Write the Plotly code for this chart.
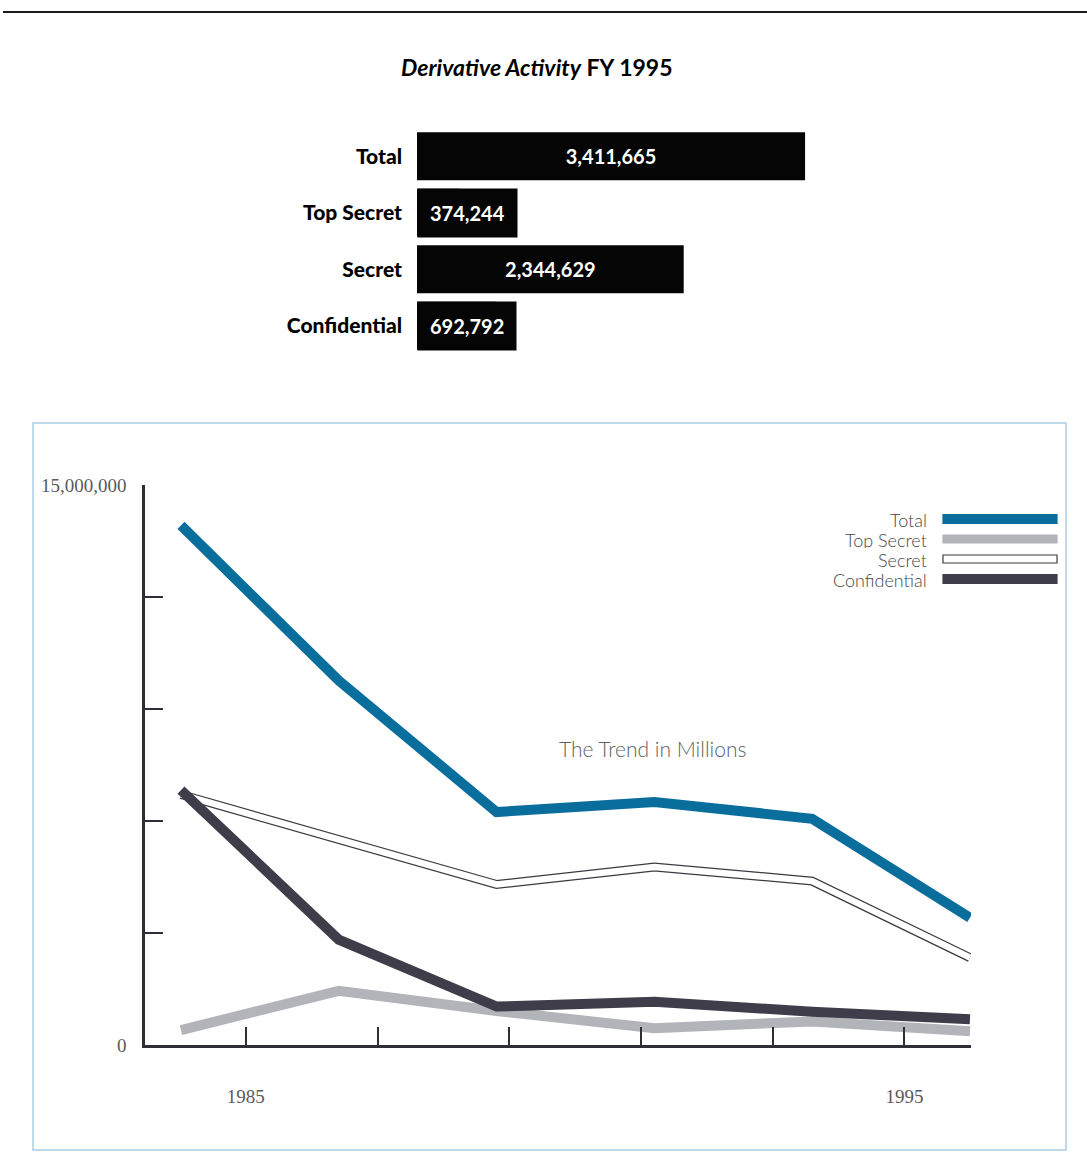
import plotly.graph_objects as go

W, H = 1087, 1175

# ---- Bar chart data (FY 1995) ----
bar_categories = ["Total", "Top Secret", "Secret", "Confidential"]
bar_values = [3411665, 374244, 2344629, 692792]

# ---- Trend data (millions) ----
trend_years = [1985, 1987, 1989, 1991, 1993, 1995]
total_m = [13.92, 9.76, 6.24, 6.51, 6.06, 3.41]
top_secret_m = [0.40, 1.45, 0.91, 0.45, 0.63, 0.37]
secret_m = [6.71, 5.50, 4.30, 4.77, 4.39, 2.34]
confidential_m = [6.83, 2.82, 1.03, 1.16, 0.89, 0.69]

y_tick_vals = [0, 3e6, 6e6, 9e6, 12e6, 15e6]
y_tick_text = ["0", "", "", "", "", "15,000,000"]
x_tick_vals = [1985, 1987, 1989, 1991, 1993, 1995]
x_tick_text = ["1985", "", "", "", "", "1995"]

TEAL = "#0a6e9d"
GREY = "#b3b4b9"
DARK = "#3e3d49"
OUTLINE = "#3a3a40"
AXIS = "#2e2e36"


def px(x):
    return x / W


def py(y):
    return 1 - y / H


fig = go.Figure()

# ---------------- Bar chart ----------------
fits_inside = [v >= 1_000_000 for v in bar_values]
fig.add_trace(go.Bar(
    x=bar_values, y=bar_categories, orientation="h",
    marker=dict(color="#050505", line=dict(width=0)),
    text=[f"{v:,}" if ok else "" for v, ok in zip(bar_values, fits_inside)],
    textposition="inside", insidetextanchor="middle",
    textfont=dict(family="Lato", size=20, color="white", weight="bold"),
    xaxis="x", yaxis="y", showlegend=False, hoverinfo="skip",
))

# ---------------- Line chart ----------------
def M(vals):
    return [v * 1e6 for v in vals]

# empty trace so the year/tick axis pair (x2, y2) is drawn
fig.add_trace(go.Scatter(x=[], y=[], xaxis="x2", yaxis="y2", showlegend=False))

fig.add_trace(go.Scatter(x=trend_years, y=M(top_secret_m), mode="lines",
                         line=dict(color=GREY, width=10), xaxis="x3", yaxis="y2",
                         showlegend=False, name="Top Secret"))
fig.add_trace(go.Scatter(x=trend_years, y=M(secret_m), mode="lines",
                         line=dict(color=OUTLINE, width=9), xaxis="x3", yaxis="y2",
                         showlegend=False, name="Secret"))
fig.add_trace(go.Scatter(x=trend_years, y=M(secret_m), mode="lines",
                         line=dict(color="white", width=6.5), xaxis="x3", yaxis="y2",
                         showlegend=False, name="Secret", hoverinfo="skip"))
fig.add_trace(go.Scatter(x=trend_years, y=M(confidential_m), mode="lines",
                         line=dict(color=DARK, width=10), xaxis="x3", yaxis="y2",
                         showlegend=False, name="Confidential"))
fig.add_trace(go.Scatter(x=trend_years, y=M(total_m), mode="lines",
                         line=dict(color=TEAL, width=10), xaxis="x3", yaxis="y2",
                         showlegend=False, name="Total"))

serif = dict(family="Liberation Serif", size=19, color="#5a5a5a")

fig.update_layout(
    width=W, height=H,
    margin=dict(l=0, r=0, t=0, b=0, pad=0, autoexpand=False),
    paper_bgcolor="white", plot_bgcolor="rgba(0,0,0,0)",
    bargap=0.15,
    xaxis=dict(domain=[px(417), px(872)], range=[0, 4.0e6], visible=False,
               anchor="y", automargin=False),
    yaxis=dict(domain=[py(354), py(128)], anchor="x", automargin=False,
               categoryorder="array", categoryarray=bar_categories,
               autorange="reversed", showgrid=False, zeroline=False,
               showline=False, ticks="", ticklabelstandoff=14,
               tickfont=dict(family="Lato", size=21, color="black", weight=900)),
    xaxis2=dict(domain=[px(145), px(971)], range=[1983.47, 1996.01], anchor="y2",
                automargin=False,
                showline=True, linecolor=AXIS, linewidth=2.5,
                ticks="inside", ticklen=18, tickwidth=2, tickcolor=AXIS,
                tickvals=x_tick_vals, ticktext=x_tick_text,
                ticklabelstandoff=32, tickfont=serif,
                showgrid=False, zeroline=False),
    xaxis3=dict(domain=[px(145), px(971)], range=[1984.544, 1995.013],
                overlaying="x2", anchor="y2", visible=False, automargin=False),
    yaxis2=dict(domain=[py(1045), py(485)], range=[0, 15e6], anchor="x2",
                automargin=False,
                showline=True, linecolor=AXIS, linewidth=2.5,
                ticks="inside", ticklen=18, tickwidth=2, tickcolor=AXIS,
                tickvals=y_tick_vals, ticktext=y_tick_text,
                ticklabelstandoff=12, tickfont=serif,
                showgrid=False, zeroline=False),
)

annotations = [
    dict(text="<b><i>Derivative Activity</i> FY 1995</b>", x=px(537), y=py(67),
         xref="paper", yref="paper", showarrow=False, yanchor="middle",
         font=dict(family="Lato", size=23, color="black")),
    dict(text="The Trend in Millions", x=px(652), y=py(748),
         xref="paper", yref="paper", showarrow=False, yanchor="middle",
         font=dict(family="Lato", size=21, color="#5f5f5f", weight=300)),
]

# label boxes for the short bars (text doesn't fit inside the true-width bar)
for cat, v, ok in zip(bar_categories, bar_values, fits_inside):
    if not ok:
        annotations.append(dict(
            text=f"<b>{v:,}</b>", x=0, y=cat, xref="x", yref="y",
            xanchor="left", yanchor="middle", showarrow=False,
            bgcolor="#050505", borderpad=12, height=24,
            font=dict(family="Lato", size=20, color="white")))

# legend (text at left, swatch at right, as in the original)
legend_items = [
    ("Total", 519, dict(fill=TEAL, line=TEAL, h=9)),
    ("Top Secret", 539, dict(fill=GREY, line=GREY, h=8)),
    ("Secret", 559, dict(fill="white", line=OUTLINE, h=8)),
    ("Confidential", 579, dict(fill=DARK, line=DARK, h=9)),
]
shapes = []
for name, yc, st in legend_items:
    annotations.append(dict(text=name, x=px(929), y=py(yc), xref="paper", yref="paper",
                            xanchor="right", yanchor="middle", showarrow=False,
                            height=17,
                            font=dict(family="Lato", size=18, color="#474747", weight=300)))
    shapes.append(dict(type="rect", xref="paper", yref="paper",
                       x0=px(943), x1=px(1057), y0=py(yc + st["h"] / 2), y1=py(yc - st["h"] / 2),
                       fillcolor=st["fill"], line=dict(color=st["line"], width=1.2)))

# frame around the trend chart and the rule at the top of the page
shapes.append(dict(type="rect", xref="paper", yref="paper",
                   x0=px(33), x1=px(1066), y0=py(1150), y1=py(423),
                   line=dict(color="#a9cde0", width=1.5), fillcolor="rgba(0,0,0,0)",
                   layer="below"))
shapes.append(dict(type="line", xref="paper", yref="paper",
                   x0=px(3), x1=1, y0=py(12), y1=py(12),
                   line=dict(color="#1a1a1a", width=2)))

fig.update_layout(annotations=annotations, shapes=shapes)

fig.write_html("out.html")
